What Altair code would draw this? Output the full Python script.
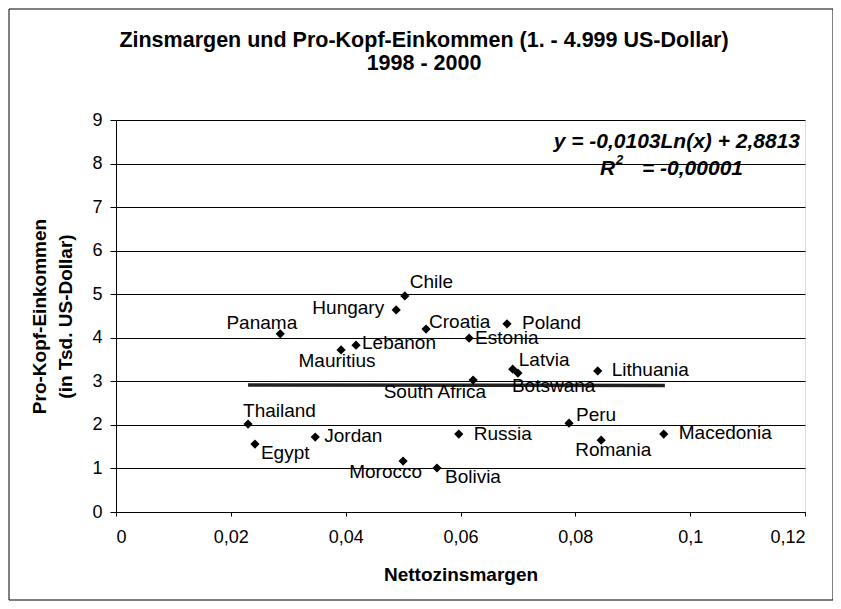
import altair as alt
import pandas as pd

countries = ["Chile", "Hungary", "Panama", "Croatia", "Lebanon", "Mauritius", "Estonia",
             "Poland", "Latvia", "Botswana", "Lithuania", "South Africa", "Thailand",
             "Egypt", "Jordan", "Russia", "Morocco", "Bolivia", "Peru", "Romania", "Macedonia"]
zinsmarge = [0.0503, 0.0488, 0.0286, 0.0540, 0.0418, 0.0392, 0.0615,
             0.0681, 0.0691, 0.0700, 0.0839, 0.0622, 0.0230,
             0.0242, 0.0347, 0.0597, 0.0500, 0.0559, 0.0789, 0.0845, 0.0954]
einkommen = [4.96, 4.64, 4.09, 4.20, 3.83, 3.72, 3.99,
             4.32, 3.28, 3.19, 3.24, 3.03, 2.02,
             1.56, 1.72, 1.79, 1.17, 1.01, 2.04, 1.65, 1.79]

trend_x = [0.0230, 0.0956]
trend_y = [2.915, 2.905]

eq_parts = ["y = -0,0103Ln(x) + 2,8813", "R", "2", "= -0,00001"]
title_lines = ["Zinsmargen und Pro-Kopf-Einkommen (1. - 4.999 US-Dollar)", "1998 - 2000"]

# label placement (style): alignment and pixel offsets from the point
label_align = ["left", "right", "right", "left", "left", "center", "left",
               "left", "left", "left", "left", "right", "left",
               "left", "left", "left", "right", "left", "left", "center", "left"]
label_dx = [5, -12, 17, 3, 6, -4, 6,
            15, 6, -6, 14, 13, -5,
            6, 9, 15, 19, 8, 7, 12, 15]
label_dy = [-14, -2, -11, -7, -2, 11, 0,
            -1, -9, 13, -1, 12, -13,
            9, -1, 0, 11, 9, -8, 10, -1]

FONT = "Liberation Sans"

df = pd.DataFrame({"land": countries, "x": zinsmarge, "y": einkommen})
trend = pd.DataFrame({"x": trend_x, "y": trend_y})
txt = pd.DataFrame({"t": eq_parts + title_lines, "i": list(range(6))})

xs = alt.Scale(domain=[0, 0.12], nice=False, zero=False)
ys = alt.Scale(domain=[0, 9], nice=False)

base = alt.Chart(df)

points = base.mark_point(shape="diamond", filled=True, color="black", size=85, opacity=1).encode(
    x=alt.X("x:Q", scale=xs,
            axis=alt.Axis(values=[0, 0.02, 0.04, 0.06, 0.08, 0.1, 0.12],
                          labelExpr="replace(format(datum.value, '.2~f'), '.', ',')",
                          grid=False, tickSize=4, labelPadding=12, domainColor="black",
                          tickColor="black", labelFontSize=18, labelColor="black",
                          labelFont=FONT, title="Nettozinsmargen", titleFont=FONT,
                          titleFontSize=19, titleFontWeight="bold", titlePadding=19,
                          titleColor="black")),
    y=alt.Y("y:Q", scale=ys,
            axis=alt.Axis(values=list(range(10)), grid=True, gridColor="black", gridOpacity=1,
                          tickSize=6, labelPadding=8, domainColor="black", tickColor="black",
                          labelFontSize=18, labelColor="black", labelFont=FONT,
                          title=["Pro-Kopf-Einkommen", "(in Tsd. US-Dollar)"], titleFont=FONT,
                          titleFontSize=19, titleFontWeight="bold", titlePadding=16,
                          titleColor="black", titleLineHeight=26)),
)

trendline = alt.Chart(trend).mark_line(color="#222222", strokeWidth=3.5).encode(
    x=alt.X("x:Q", scale=xs), y=alt.Y("y:Q", scale=ys))

labels = []
for i, name in enumerate(countries):
    labels.append(
        base.transform_filter(alt.datum.land == name).mark_text(
            align=label_align[i], baseline="middle", dx=label_dx[i], dy=label_dy[i],
            font=FONT, fontSize=19, color="black").encode(
            x=alt.X("x:Q", scale=xs), y=alt.Y("y:Q", scale=ys), text="land:N"))


def text_line(i, x, y, align, size, style="normal"):
    return alt.Chart(txt).transform_filter(alt.datum.i == i).mark_text(
        align=align, baseline="middle", font=FONT, fontSize=size, fontWeight="bold",
        fontStyle=style, color="black").encode(x=alt.value(x), y=alt.value(y), text="t:N")


eq1 = text_line(0, 684, 22, "right", 21, "italic")
eqR = text_line(1, 484, 49, "left", 21, "italic")
eq2 = text_line(2, 500, 40, "left", 13, "italic")
eq3 = text_line(3, 627, 49, "right", 21, "italic")
t1 = text_line(4, 308, -79, "center", 21.5)
t2 = text_line(5, 308, -56, "center", 21.5)

border = alt.Chart(txt).transform_filter(alt.datum.i == 0).mark_rect(
    fill=None, stroke="black", strokeWidth=1).encode(
    x=alt.value(-107), x2=alt.value(717), y=alt.value(-111), y2=alt.value(480))

chart = alt.layer(border, trendline, points, *labels, eq1, eqR, eq2, eq3, t1, t2).properties(
    width=689, height=392,
    autosize=alt.AutoSizeParams(type="none"),
    padding={"left": 108, "top": 112, "right": 28, "bottom": 89},
).configure_view(stroke="black", strokeWidth=1).configure(background="white")

chart.save("out.html", embed_options={"renderer": "svg", "actions": False})
